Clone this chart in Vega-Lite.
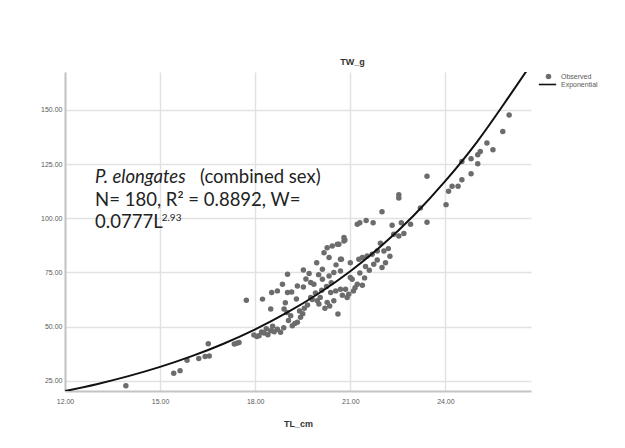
{
  "$schema": "https://vega.github.io/schema/vega-lite/v6.json",
  "width": 466,
  "height": 319,
  "autosize": {"type": "none"},
  "padding": {"left": 65, "top": 72, "right": 94, "bottom": 57},
  "background": "#ffffff",
  "config": {
    "view": {"stroke": null},
    "axis": {
      "labelFont": "Liberation Sans",
      "labelFontSize": 7,
      "labelColor": "#5a5a5a",
      "titleFont": "Liberation Sans",
      "titleFontSize": 9,
      "titleFontWeight": "bold",
      "titleColor": "#333333",
      "domainColor": "#c4c4c4",
      "domainWidth": 2,
      "gridColor": "#e2e2e2",
      "gridWidth": 1.5,
      "ticks": false
    },
    "legend": {"labelFont": "Liberation Sans", "labelFontSize": 7, "labelColor": "#5a5a5a", "padding": 0, "title": null}
  },
  "datasets": {
    "obs": [
      {"TL": 13.92, "TW": 22.7},
      {"TL": 15.43, "TW": 28.5},
      {"TL": 15.63, "TW": 29.7},
      {"TL": 15.85, "TW": 34.5},
      {"TL": 16.22, "TW": 35.3},
      {"TL": 16.42, "TW": 36.2},
      {"TL": 16.55, "TW": 36.5},
      {"TL": 16.52, "TW": 42.1},
      {"TL": 17.34, "TW": 42.0},
      {"TL": 17.42, "TW": 42.3},
      {"TL": 17.49, "TW": 42.7},
      {"TL": 17.72, "TW": 62.2},
      {"TL": 17.96, "TW": 46.1},
      {"TL": 18.05, "TW": 45.5},
      {"TL": 18.12, "TW": 45.8},
      {"TL": 18.2, "TW": 47.5},
      {"TL": 18.28, "TW": 47.1},
      {"TL": 18.35, "TW": 49.0},
      {"TL": 18.49, "TW": 48.1},
      {"TL": 18.55, "TW": 50.2},
      {"TL": 18.6, "TW": 47.6},
      {"TL": 18.8, "TW": 47.4},
      {"TL": 18.9, "TW": 49.5},
      {"TL": 18.49, "TW": 58.1},
      {"TL": 18.23, "TW": 62.7},
      {"TL": 18.52, "TW": 65.8},
      {"TL": 18.7, "TW": 66.5},
      {"TL": 18.86, "TW": 69.6},
      {"TL": 19.02, "TW": 74.2},
      {"TL": 19.02, "TW": 65.8},
      {"TL": 18.91, "TW": 58.1},
      {"TL": 19.0, "TW": 56.5},
      {"TL": 19.12, "TW": 55.0},
      {"TL": 19.17, "TW": 50.4},
      {"TL": 19.25, "TW": 51.5},
      {"TL": 19.33, "TW": 52.0},
      {"TL": 19.43, "TW": 54.3},
      {"TL": 19.5, "TW": 56.0},
      {"TL": 19.33, "TW": 68.8},
      {"TL": 19.52, "TW": 68.3},
      {"TL": 19.52, "TW": 76.1},
      {"TL": 19.75, "TW": 70.4},
      {"TL": 19.85, "TW": 69.6},
      {"TL": 19.94, "TW": 79.5},
      {"TL": 19.96, "TW": 61.9},
      {"TL": 20.01, "TW": 60.4},
      {"TL": 20.12, "TW": 76.5},
      {"TL": 20.12, "TW": 71.9},
      {"TL": 20.17, "TW": 84.1},
      {"TL": 20.27, "TW": 86.4},
      {"TL": 20.43, "TW": 87.2},
      {"TL": 20.64, "TW": 88.0},
      {"TL": 20.83, "TW": 90.0},
      {"TL": 20.33, "TW": 81.9},
      {"TL": 20.69, "TW": 81.1},
      {"TL": 20.33, "TW": 73.4},
      {"TL": 20.48, "TW": 75.0},
      {"TL": 20.69, "TW": 75.7},
      {"TL": 20.38, "TW": 65.8},
      {"TL": 20.54, "TW": 66.5},
      {"TL": 20.69, "TW": 67.3},
      {"TL": 20.85, "TW": 67.3},
      {"TL": 20.27, "TW": 61.2},
      {"TL": 20.48, "TW": 61.9},
      {"TL": 20.61, "TW": 55.8},
      {"TL": 20.9, "TW": 63.4},
      {"TL": 21.0, "TW": 79.5},
      {"TL": 21.06, "TW": 71.9},
      {"TL": 21.22, "TW": 69.6},
      {"TL": 21.38, "TW": 69.1},
      {"TL": 20.8, "TW": 91.1},
      {"TL": 20.8, "TW": 89.5},
      {"TL": 20.59, "TW": 88.0},
      {"TL": 20.72, "TW": 81.1},
      {"TL": 21.27, "TW": 81.1},
      {"TL": 21.38, "TW": 81.9},
      {"TL": 21.53, "TW": 82.6},
      {"TL": 21.69, "TW": 83.4},
      {"TL": 21.85, "TW": 84.9},
      {"TL": 22.06, "TW": 84.9},
      {"TL": 22.11, "TW": 79.5},
      {"TL": 22.0, "TW": 77.3},
      {"TL": 21.74, "TW": 78.8},
      {"TL": 21.48, "TW": 77.7},
      {"TL": 21.0, "TW": 72.7},
      {"TL": 21.22, "TW": 97.2},
      {"TL": 21.3, "TW": 97.9},
      {"TL": 21.5, "TW": 99.0},
      {"TL": 21.72, "TW": 97.9},
      {"TL": 22.0, "TW": 103.0},
      {"TL": 22.32, "TW": 96.8},
      {"TL": 22.61, "TW": 97.9},
      {"TL": 22.9, "TW": 97.2},
      {"TL": 22.53, "TW": 110.9},
      {"TL": 22.53, "TW": 109.4},
      {"TL": 23.21, "TW": 104.8},
      {"TL": 23.42, "TW": 98.2},
      {"TL": 22.37, "TW": 92.6},
      {"TL": 22.53, "TW": 91.8},
      {"TL": 22.69, "TW": 93.0},
      {"TL": 23.42, "TW": 119.4},
      {"TL": 24.02, "TW": 106.3},
      {"TL": 24.1, "TW": 112.5},
      {"TL": 24.21, "TW": 114.8},
      {"TL": 24.4, "TW": 114.8},
      {"TL": 24.52, "TW": 117.8},
      {"TL": 24.81, "TW": 120.5},
      {"TL": 24.52, "TW": 126.2},
      {"TL": 24.81, "TW": 127.5},
      {"TL": 25.02, "TW": 125.2},
      {"TL": 25.02, "TW": 129.3},
      {"TL": 25.1, "TW": 130.8},
      {"TL": 25.31, "TW": 134.7},
      {"TL": 25.5, "TW": 131.6},
      {"TL": 25.81, "TW": 140.0},
      {"TL": 26.01, "TW": 147.7},
      {"TL": 19.15, "TW": 66.0},
      {"TL": 19.65, "TW": 60.0},
      {"TL": 19.8, "TW": 62.5},
      {"TL": 20.05, "TW": 63.5},
      {"TL": 20.2, "TW": 58.5},
      {"TL": 20.35, "TW": 59.5},
      {"TL": 19.55, "TW": 58.5},
      {"TL": 19.9, "TW": 65.5},
      {"TL": 20.25, "TW": 68.5},
      {"TL": 20.95, "TW": 65.0},
      {"TL": 21.1, "TW": 66.5},
      {"TL": 21.15, "TW": 68.0},
      {"TL": 21.45, "TW": 72.5},
      {"TL": 21.6, "TW": 76.0},
      {"TL": 22.2, "TW": 86.0},
      {"TL": 21.95, "TW": 88.5},
      {"TL": 19.6, "TW": 72.0},
      {"TL": 19.7, "TW": 74.5},
      {"TL": 18.4, "TW": 46.3},
      {"TL": 18.7, "TW": 48.8},
      {"TL": 19.05, "TW": 52.8},
      {"TL": 19.4, "TW": 57.2},
      {"TL": 19.75, "TW": 63.5},
      {"TL": 20.1, "TW": 66.8},
      {"TL": 20.4, "TW": 70.2},
      {"TL": 20.55, "TW": 78.5},
      {"TL": 20.0, "TW": 74.0},
      {"TL": 20.75, "TW": 64.5},
      {"TL": 21.3, "TW": 74.8},
      {"TL": 21.85, "TW": 80.8},
      {"TL": 22.25, "TW": 82.5},
      {"TL": 19.3, "TW": 62.8},
      {"TL": 18.95, "TW": 61.0}
    ],
    "fit": [
      {"TL": 12.0, "TW": 20.26},
      {"TL": 13.0, "TW": 23.45},
      {"TL": 14.0, "TW": 27.15},
      {"TL": 15.0, "TW": 31.42},
      {"TL": 16.0, "TW": 36.37},
      {"TL": 17.0, "TW": 42.10},
      {"TL": 18.0, "TW": 48.74},
      {"TL": 19.0, "TW": 56.41},
      {"TL": 20.0, "TW": 65.30},
      {"TL": 21.0, "TW": 75.59},
      {"TL": 22.0, "TW": 87.50},
      {"TL": 23.0, "TW": 101.28},
      {"TL": 24.0, "TW": 117.24},
      {"TL": 25.0, "TW": 135.3},
      {"TL": 26.0, "TW": 156.0},
      {"TL": 26.55, "TW": 167.8}
    ]
  },
  "layer": [
    {
      "data": {"name": "obs"},
      "mark": {"type": "circle", "size": 30, "opacity": 1},
      "encoding": {
        "x": {
          "field": "TL", "type": "quantitative",
          "scale": {"domain": [12, 26.7], "nice": false, "zero": false},
          "axis": {"values": [12, 15, 18, 21, 24], "format": ".2f", "title": "TL_cm", "labelPadding": 6, "titlePadding": 15, "labelFlush": false}
        },
        "y": {
          "field": "TW", "type": "quantitative",
          "scale": {"domain": [20.3, 167.5], "nice": false, "zero": false},
          "axis": {"values": [25, 50, 75, 100, 125, 150], "format": ".2f", "title": "TW_g", "labelPadding": 3, "titleAngle": 0, "titleX": 287, "titleY": -11, "titleAlign": "center", "titleBaseline": "middle", "labelFlush": false}
        },
        "fill": {
          "datum": "Observed", "type": "nominal",
          "scale": {"range": ["#6c6c6c"]},
          "legend": {"orient": "none", "legendX": 480, "legendY": 1, "symbolType": "circle", "symbolSize": 30, "labelOffset": 9}
        }
      }
    },
    {
      "data": {"name": "fit"},
      "mark": {"type": "line", "strokeWidth": 2, "interpolate": "monotone", "clip": true},
      "encoding": {
        "x": {"field": "TL", "type": "quantitative"},
        "y": {"field": "TW", "type": "quantitative"},
        "stroke": {
          "datum": "Exponential", "type": "nominal",
          "scale": {"range": ["#111111"]},
          "legend": {"orient": "none", "legendX": 473, "legendY": 3, "symbolType": "stroke", "symbolSize": 300, "symbolStrokeWidth": 1.6, "labelOffset": 4}
        }
      }
    },
    {
      "data": {"values": [{"label": "P. elongates", "TL": 12.95, "TW": 116.2}]},
      "mark": {"type": "text", "align": "left", "baseline": "alphabetic", "font": "Lato", "fontSize": 18.5, "fontStyle": "italic", "color": "#222222"},
      "encoding": {
        "x": {"field": "TL", "type": "quantitative"},
        "y": {"field": "TW", "type": "quantitative"},
        "text": {"field": "label"}
      }
    },
    {
      "data": {"values": [
        {"label": "(combined sex)", "TL": 16.26, "TW": 116.2},
        {"label": "N= 180, R² = 0.8892, W=", "TL": 12.95, "TW": 105.6},
        {"label": "0.0777L", "TL": 12.95, "TW": 95.4}
      ]},
      "mark": {"type": "text", "align": "left", "baseline": "alphabetic", "font": "Lato", "fontSize": 18.5, "color": "#222222"},
      "encoding": {
        "x": {"field": "TL", "type": "quantitative"},
        "y": {"field": "TW", "type": "quantitative"},
        "text": {"field": "label"}
      }
    },
    {
      "data": {"values": [{"label": "2.93", "TL": 15.05, "TW": 98.8}]},
      "mark": {"type": "text", "align": "left", "baseline": "alphabetic", "font": "Lato", "fontSize": 10, "color": "#222222"},
      "encoding": {
        "x": {"field": "TL", "type": "quantitative"},
        "y": {"field": "TW", "type": "quantitative"},
        "text": {"field": "label"}
      }
    }
  ]
}
